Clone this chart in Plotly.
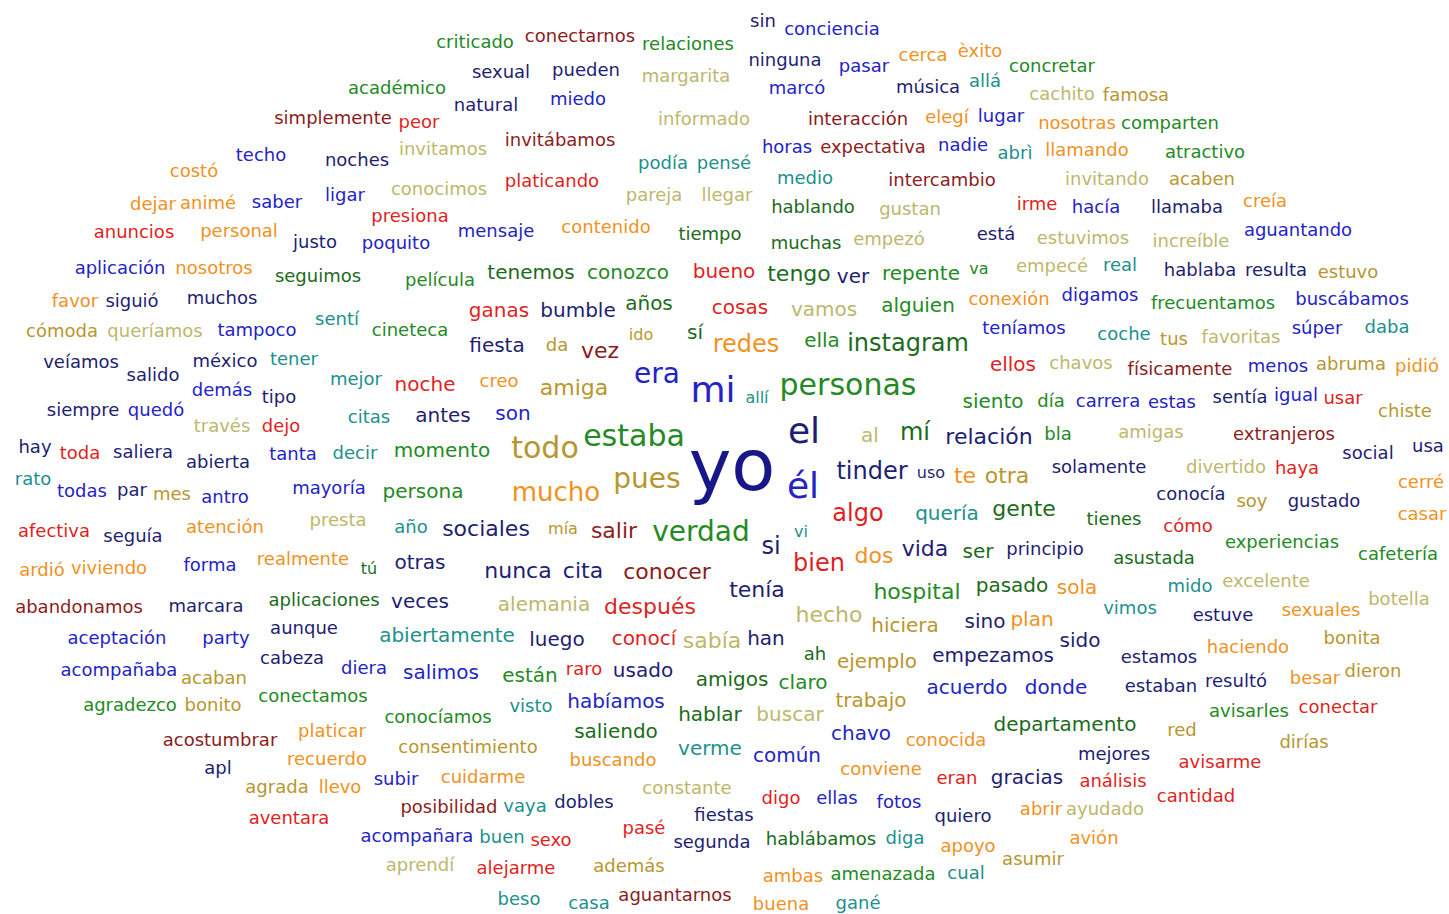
import plotly.graph_objects as go

# ---- word cloud data: word, weight (font size in px), colour key ----
WORDS = [
    "sin", "conciencia", "criticado", "conectarnos", "relaciones", "ninguna", "pasar", "cerca", "èxito", "concretar",
    "académico", "sexual", "pueden", "margarita", "marcó", "música", "allá", "cachito", "famosa", "natural",
    "miedo", "simplemente", "peor", "informado", "interacción", "elegí", "lugar", "nosotras", "comparten", "invitamos",
    "invitábamos", "techo", "noches", "costó", "podía", "pensé", "horas", "expectativa", "nadie", "abrì",
    "llamando", "atractivo", "medio", "intercambio", "invitando", "acaben", "dejar", "animé", "saber", "ligar",
    "conocimos", "platicando", "pareja", "llegar", "hablando", "gustan", "irme", "hacía", "llamaba", "creía",
    "anuncios", "personal", "presiona", "justo", "poquito", "mensaje", "contenido", "tiempo", "muchas", "empezó",
    "está", "estuvimos", "increíble", "aguantando", "aplicación", "nosotros", "seguimos", "película", "tenemos", "conozco",
    "bueno", "tengo", "ver", "repente", "va", "empecé", "real", "hablaba", "resulta", "estuvo",
    "favor", "siguió", "muchos", "sentí", "ganas", "bumble", "años", "cosas", "vamos", "alguien",
    "conexión", "digamos", "frecuentamos", "buscábamos", "cómoda", "queríamos", "tampoco", "cineteca", "fiesta", "da",
    "vez", "ido", "sí", "redes", "ella", "instagram", "teníamos", "coche", "tus", "favoritas",
    "súper", "daba", "veíamos", "salido", "méxico", "tener", "mejor", "noche", "creo", "amiga",
    "era", "mi", "allí", "personas", "ellos", "chavos", "físicamente", "menos", "abruma", "pidió",
    "demás", "tipo", "siempre", "quedó", "citas", "antes", "son", "través", "dejo", "siento",
    "día", "carrera", "estas", "sentía", "igual", "usar", "chiste", "hay", "toda", "saliera",
    "abierta", "tanta", "decir", "momento", "todo", "estaba", "yo", "el", "al", "mí",
    "relación", "bla", "amigas", "extranjeros", "social", "usa", "rato", "todas", "par", "mes",
    "antro", "mayoría", "persona", "mucho", "pues", "él", "tinder", "uso", "te", "otra",
    "solamente", "divertido", "haya", "cerré", "afectiva", "seguía", "atención", "presta", "año", "sociales",
    "mía", "salir", "verdad", "algo", "quería", "gente", "conocía", "soy", "gustado", "tienes",
    "cómo", "casar", "ardió", "viviendo", "forma", "realmente", "tú", "otras", "si", "vi",
    "bien", "dos", "vida", "ser", "principio", "asustada", "experiencias", "cafetería", "nunca", "cita",
    "conocer", "tenía", "hospital", "pasado", "sola", "mido", "excelente", "botella", "abandonamos", "marcara",
    "aplicaciones", "veces", "alemania", "después", "hecho", "hiciera", "sino", "plan", "vimos", "estuve",
    "sexuales", "aceptación", "party", "aunque", "abiertamente", "luego", "conocí", "sabía", "han", "ah",
    "ejemplo", "empezamos", "sido", "haciendo", "bonita", "acompañaba", "cabeza", "diera", "acaban", "salimos",
    "están", "raro", "usado", "amigos", "claro", "acuerdo", "donde", "estamos", "estaban", "resultó",
    "besar", "dieron", "agradezco", "bonito", "conectamos", "visto", "habíamos", "hablar", "buscar", "trabajo",
    "avisarles", "conectar", "platicar", "acostumbrar", "conocíamos", "saliendo", "departamento", "chavo", "conocida", "red",
    "dirías", "consentimiento", "verme", "común", "mejores", "recuerdo", "buscando", "apl", "conviene", "eran",
    "gracias", "análisis", "avisarme", "agrada", "llevo", "subir", "cuidarme", "constante", "cantidad", "posibilidad",
    "vaya", "dobles", "digo", "ellas", "fotos", "quiero", "abrir", "ayudado", "aventara", "fiestas",
    "acompañara", "buen", "sexo", "pasé", "segunda", "hablábamos", "diga", "apoyo", "avión", "asumir",
    "aprendí", "alejarme", "además", "ambas", "amenazada", "cual", "beso", "casa", "aguantarnos", "buena",
    "gané",
]

WEIGHT = [
    18, 18, 18, 18, 18, 18, 18, 18, 18, 18,
    18, 18, 18, 18, 18, 18, 18, 18, 18, 18,
    18, 18, 18, 18, 18, 18, 18, 18, 18, 18,
    18, 18, 18, 18, 18, 18, 18, 18, 18, 18,
    18, 18, 18, 18, 18, 18, 18, 18, 18, 18,
    18, 18, 18, 18, 18, 18, 18, 18, 18, 18,
    18, 18, 18, 18, 18, 18, 18, 18, 18, 18,
    18, 18, 18, 18, 18, 18, 18, 18, 20, 20,
    20, 22, 20, 20, 16, 18, 18, 18, 18, 18,
    18, 18, 18, 18, 20, 20, 20, 20, 20, 20,
    18, 18, 18, 18, 18, 18, 18, 18, 20, 18,
    22, 16, 20, 24, 20, 24, 18, 18, 18, 18,
    18, 18, 18, 18, 18, 18, 18, 20, 18, 22,
    28, 36, 16, 30, 20, 18, 18, 18, 18, 18,
    18, 18, 18, 18, 18, 20, 20, 18, 18, 20,
    18, 18, 18, 18, 18, 18, 18, 18, 18, 18,
    18, 18, 18, 20, 30, 30, 72, 36, 20, 24,
    22, 18, 18, 18, 18, 18, 18, 18, 18, 18,
    18, 18, 20, 26, 28, 36, 24, 16, 22, 22,
    18, 18, 18, 18, 18, 18, 18, 18, 18, 22,
    16, 22, 28, 24, 20, 22, 18, 18, 18, 18,
    18, 18, 18, 18, 18, 18, 16, 20, 24, 16,
    24, 22, 22, 20, 18, 18, 18, 18, 22, 22,
    22, 22, 22, 20, 20, 18, 18, 18, 18, 18,
    18, 20, 20, 22, 22, 20, 20, 20, 18, 18,
    18, 18, 18, 18, 20, 20, 20, 22, 20, 18,
    20, 20, 20, 18, 18, 18, 18, 18, 18, 20,
    20, 18, 20, 20, 20, 20, 20, 18, 18, 18,
    18, 18, 18, 18, 18, 18, 20, 20, 20, 20,
    18, 18, 18, 18, 18, 20, 20, 20, 18, 18,
    18, 18, 20, 20, 18, 18, 18, 18, 18, 18,
    20, 18, 18, 18, 18, 18, 18, 18, 18, 18,
    18, 18, 18, 18, 18, 18, 18, 18, 18, 18,
    18, 18, 18, 18, 18, 18, 18, 18, 18, 18,
    18, 18, 18, 18, 18, 18, 18, 18, 18, 18,
    18,
]

COLOR_KEY = [
    "N", "B", "G", "M", "G", "N", "B", "O", "O", "G",
    "G", "N", "N", "K", "B", "N", "T", "K", "Y", "N",
    "B", "M", "R", "K", "M", "O", "B", "O", "G", "K",
    "M", "B", "N", "O", "T", "T", "B", "M", "B", "T",
    "O", "G", "T", "M", "K", "Y", "O", "O", "B", "B",
    "K", "R", "K", "K", "D", "K", "R", "B", "N", "O",
    "R", "O", "R", "N", "B", "B", "O", "D", "D", "K",
    "N", "K", "K", "B", "B", "O", "D", "G", "D", "G",
    "R", "D", "N", "G", "G", "K", "T", "N", "N", "Y",
    "O", "N", "N", "T", "R", "N", "D", "R", "K", "G",
    "O", "B", "G", "B", "Y", "K", "B", "G", "N", "Y",
    "M", "Y", "D", "O", "G", "D", "B", "T", "Y", "K",
    "B", "T", "N", "N", "N", "T", "T", "R", "O", "Y",
    "B", "B", "T", "G", "R", "K", "M", "B", "Y", "O",
    "B", "N", "N", "B", "T", "N", "B", "K", "R", "G",
    "G", "B", "B", "N", "B", "R", "Y", "N", "R", "N",
    "N", "B", "T", "G", "Y", "G", "N", "N", "K", "D",
    "N", "G", "K", "M", "N", "N", "T", "B", "N", "Y",
    "B", "B", "G", "O", "Y", "B", "N", "N", "O", "Y",
    "N", "K", "R", "O", "R", "N", "O", "K", "T", "N",
    "Y", "M", "G", "R", "T", "D", "N", "Y", "N", "D",
    "R", "O", "O", "O", "B", "O", "D", "N", "N", "T",
    "R", "O", "N", "D", "N", "D", "G", "G", "N", "N",
    "M", "N", "G", "D", "O", "T", "K", "K", "M", "N",
    "D", "N", "K", "R", "K", "Y", "N", "O", "T", "N",
    "O", "B", "B", "N", "T", "N", "R", "K", "N", "D",
    "Y", "N", "N", "O", "Y", "B", "N", "B", "Y", "B",
    "G", "R", "N", "D", "G", "B", "B", "N", "N", "N",
    "O", "Y", "G", "Y", "G", "T", "B", "D", "K", "Y",
    "G", "R", "O", "M", "G", "D", "D", "B", "O", "Y",
    "Y", "Y", "T", "B", "N", "O", "O", "N", "O", "R",
    "N", "R", "R", "Y", "O", "B", "O", "K", "R", "M",
    "T", "N", "R", "B", "B", "N", "O", "K", "R", "N",
    "B", "T", "R", "R", "N", "D", "T", "O", "O", "Y",
    "K", "R", "Y", "O", "G", "T", "T", "T", "M", "O",
    "T",
]

# ---- layout of the cloud (word centres, in pixel units of the page) ----
POS_X = [
    763, 832, 475, 580, 688, 785, 864, 923, 980, 1052,
    397, 501, 586, 686, 797, 928, 985, 1062, 1136, 486,
    578, 333, 419, 704, 858, 947, 1001, 1077, 1170, 443,
    560, 261, 357, 194, 663, 724, 787, 873, 963, 1015,
    1087, 1205, 805, 942, 1107, 1202, 153, 208, 277, 345,
    439, 552, 654, 727, 813, 910, 1037, 1096, 1187, 1265,
    134, 239, 410, 315, 396, 496, 606, 710, 806, 889,
    996, 1083, 1191, 1298, 120, 214, 318, 440, 531, 628,
    724, 799, 853, 921, 979, 1052, 1120, 1200, 1276, 1348,
    75, 132, 222, 337, 499, 578, 649, 740, 824, 918,
    1009, 1100, 1213, 1352, 62, 155, 257, 410, 497, 557,
    600, 641, 695, 746, 822, 908, 1024, 1124, 1174, 1241,
    1317, 1387, 81, 153, 225, 294, 356, 425, 499, 574,
    657, 713, 757, 848, 1013, 1081, 1180, 1278, 1351, 1417,
    222, 279, 83, 156, 369, 443, 513, 222, 281, 993,
    1051, 1108, 1172, 1240, 1296, 1343, 1405, 35, 80, 143,
    218, 293, 355, 442, 545, 634, 732, 804, 870, 915,
    989, 1058, 1151, 1284, 1368, 1428, 33, 82, 132, 172,
    225, 329, 423, 556, 647, 803, 872, 931, 965, 1007,
    1099, 1226, 1297, 1421, 54, 133, 225, 338, 411, 486,
    563, 614, 701, 858, 947, 1024, 1191, 1252, 1324, 1114,
    1188, 1422, 42, 109, 210, 303, 369, 420, 771, 801,
    819, 874, 925, 978, 1045, 1154, 1282, 1398, 518, 583,
    667, 757, 917, 1012, 1077, 1190, 1266, 1399, 79, 206,
    324, 420, 544, 650, 829, 905, 985, 1032, 1130, 1223,
    1321, 117, 226, 304, 447, 557, 644, 712, 766, 815,
    877, 993, 1080, 1248, 1352, 119, 292, 364, 214, 441,
    530, 584, 643, 732, 803, 967, 1056, 1159, 1161, 1236,
    1315, 1373, 130, 213, 313, 531, 616, 710, 790, 871,
    1249, 1338, 332, 220, 438, 616, 1065, 861, 946, 1182,
    1304, 468, 710, 787, 1114, 327, 613, 218, 881, 957,
    1027, 1113, 1220, 277, 340, 396, 483, 687, 1196, 449,
    525, 584, 781, 837, 899, 963, 1041, 1105, 289, 724,
    417, 502, 551, 644, 712, 821, 905, 968, 1094, 1033,
    420, 516, 629, 793, 883, 966, 519, 589, 675, 781,
    858,
]

POS_Y = [
    20, 28, 41, 35, 43, 59, 65, 54, 50, 65,
    87, 71, 69, 75, 87, 86, 80, 93, 94, 104,
    98, 117, 121, 118, 118, 116, 115, 122, 122, 148,
    139, 154, 159, 170, 162, 162, 146, 146, 144, 152,
    149, 151, 177, 179, 178, 178, 203, 202, 201, 194,
    188, 180, 194, 194, 206, 208, 203, 206, 206, 200,
    231, 230, 215, 241, 242, 230, 226, 233, 242, 238,
    233, 237, 240, 229, 267, 267, 275, 279, 272, 272,
    271, 273, 276, 273, 268, 265, 264, 269, 269, 271,
    300, 300, 297, 318, 310, 310, 303, 307, 309, 305,
    298, 294, 302, 298, 330, 330, 329, 329, 345, 344,
    350, 334, 332, 344, 340, 343, 327, 333, 338, 336,
    327, 326, 361, 374, 360, 358, 378, 384, 380, 387,
    374, 391, 397, 385, 364, 362, 368, 365, 363, 365,
    389, 396, 409, 409, 416, 415, 413, 425, 425, 401,
    400, 400, 401, 396, 394, 397, 410, 446, 452, 451,
    461, 453, 452, 450, 448, 436, 470, 432, 435, 432,
    436, 433, 431, 433, 452, 445, 478, 490, 489, 493,
    496, 487, 491, 492, 479, 487, 471, 472, 475, 475,
    466, 466, 467, 481, 530, 535, 526, 519, 526, 528,
    528, 530, 532, 513, 513, 508, 493, 500, 500, 518,
    525, 513, 569, 567, 564, 558, 568, 562, 546, 531,
    563, 555, 548, 551, 548, 557, 541, 553, 570, 570,
    571, 589, 591, 585, 587, 585, 580, 598, 606, 605,
    599, 601, 604, 606, 614, 625, 621, 619, 607, 614,
    609, 637, 637, 627, 635, 639, 638, 640, 638, 653,
    661, 655, 640, 646, 637, 669, 657, 667, 677, 672,
    675, 668, 670, 679, 682, 687, 687, 656, 685, 680,
    677, 670, 704, 704, 695, 705, 701, 714, 714, 700,
    710, 706, 730, 739, 716, 731, 724, 733, 739, 729,
    741, 746, 748, 755, 753, 758, 759, 767, 768, 777,
    777, 780, 761, 786, 786, 778, 776, 787, 795, 806,
    805, 801, 797, 797, 801, 815, 808, 808, 817, 814,
    835, 836, 839, 827, 841, 838, 837, 845, 837, 858,
    864, 867, 865, 875, 873, 872, 898, 902, 894, 903,
    902,
]

PALETTE = {
    "N": "#1e1e72",  # navy
    "B": "#2424c4",  # blue
    "M": "#8c1c1c",  # maroon
    "R": "#e01f22",  # red
    "G": "#248a24",  # green
    "D": "#1b6b1b",  # dark green
    "K": "#bdb76b",  # khaki
    "O": "#f0921e",  # orange
    "Y": "#b8962e",  # goldenrod
    "T": "#20908c",  # teal
}

n = len(WORDS)
assert len(WEIGHT) == n and len(COLOR_KEY) == n and len(POS_X) == n and len(POS_Y) == n, \
    (n, len(WEIGHT), len(COLOR_KEY), len(POS_X), len(POS_Y))

colors = [PALETTE[k] for k in COLOR_KEY]
colors[WORDS.index("yo")] = "#17178a"

W, H = 1449, 914
BASELINE_NUDGE = 2  # text glyphs sit ~2px high relative to the estimated centres

fig = go.Figure(
    go.Scatter(
        x=POS_X,
        y=POS_Y,
        mode="text",
        text=WORDS,
        textposition="middle center",
        textfont=dict(family="DejaVu Sans, Verdana, sans-serif", size=WEIGHT, color=colors),
        hoverinfo="text",
        cliponaxis=False,
    )
)

fig.update_layout(
    width=W,
    height=H,
    margin=dict(l=0, r=0, t=0, b=0),
    paper_bgcolor="white",
    plot_bgcolor="white",
    showlegend=False,
    xaxis=dict(range=[0, W], visible=False, fixedrange=True),
    yaxis=dict(range=[H - BASELINE_NUDGE, -BASELINE_NUDGE], visible=False, fixedrange=True),
)

# remove the default 8px page margin so the figure fills the window exactly
fig.write_html(
    "out.html",
    config={"displayModeBar": False},
    post_script="document.body.style.margin='0';document.body.style.overflow='hidden';",
)
